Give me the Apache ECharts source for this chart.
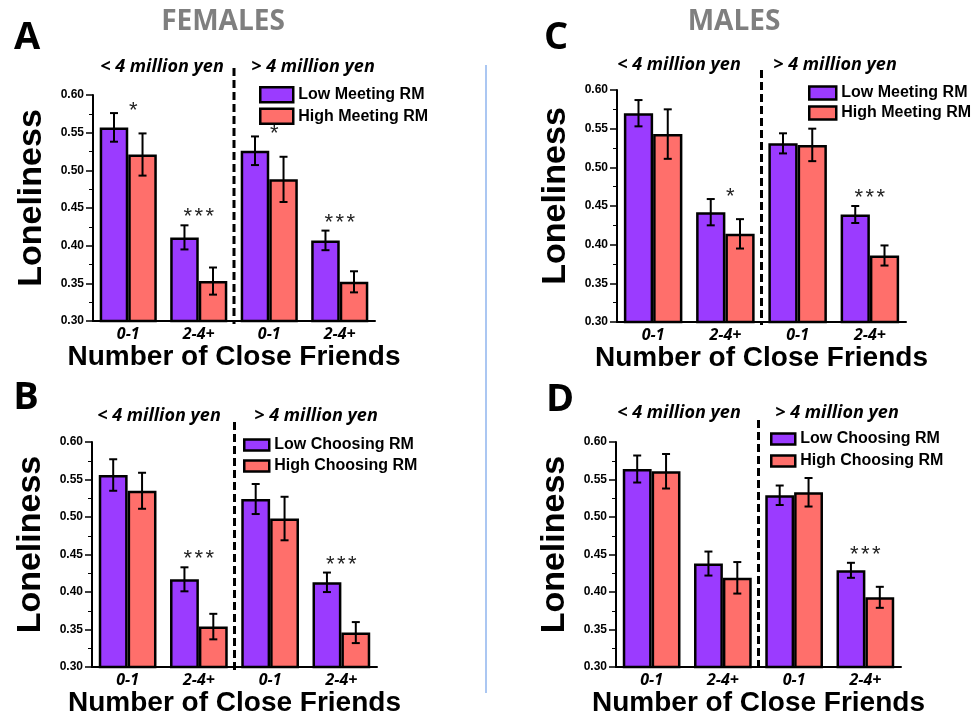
<!DOCTYPE html>
<html>
<head>
<meta charset="utf-8">
<title>Loneliness by close friends, income and RM use</title>
<script src="https://cdn.jsdelivr.net/npm/echarts@6/dist/echarts.min.js"></script>
<style>
  html, body { margin: 0; padding: 0; background: #fff; }
  #chart { width: 973px; height: 718px; }
</style>
</head>
<body>
<div id="chart"></div>
<script>
// ---- data ----
const friendGroups = ['0-1', '2-4+', '0-1', '2-4+'];
const incomeLabels = ['< 4 million yen', '> 4 million yen'];
const meetingNames = ['Low Meeting RM', 'High Meeting RM'];
const choosingNames = ['Low Choosing RM', 'High Choosing RM'];

// A: females, meeting RM
const lowA = [0.557, 0.411, 0.526, 0.407];
const errLowA = [0.019, 0.016, 0.019, 0.013];
const highA = [0.521, 0.353, 0.488, 0.352];
const errHighA = [0.028, 0.018, 0.030, 0.014];
const sigA = ['*', '***', '*', '***'];

// B: females, choosing RM
const lowB = [0.556, 0.417, 0.524, 0.413];
const errLowB = [0.021, 0.016, 0.020, 0.013];
const highB = [0.535, 0.354, 0.498, 0.346];
const errHighB = [0.024, 0.017, 0.029, 0.014];
const sigB = ['', '***', '', '***'];

// C: males, meeting RM
const lowC = [0.570, 0.442, 0.531, 0.439];
const errLowC = [0.017, 0.017, 0.013, 0.011];
const highC = [0.543, 0.414, 0.529, 0.386];
const errHighC = [0.032, 0.019, 0.021, 0.013];
const sigC = ['', '*', '', '***'];

// D: males, choosing RM
const lowD = [0.564, 0.438, 0.529, 0.429];
const errLowD = [0.018, 0.016, 0.013, 0.010];
const highD = [0.561, 0.419, 0.533, 0.393];
const errHighD = [0.023, 0.021, 0.019, 0.014];
const sigD = ['', '', '', '***'];

// ---- styling / layout ----
const PURPLE = '#9b3bff';
const SALMON = '#ff6f6b';
const CAT_GAP = 0.19;
const SANS = '"Liberation Sans", Arial, sans-serif';
const TITLE_FONT = '"Open Sans", "Liberation Sans", sans-serif';

const panels = [
  { letter: 'A', low: lowA, lowErr: errLowA, high: highA, highErr: errHighA, sig: sigA, names: meetingNames,
    grid: { left: 93, top: 95, width: 282, height: 226 }, dashRise: 27,
    legend: { left: 259, top: 86, w: 33, h: 15, gap: 4 },
    letterPos: [27, 38], incomePos: [[162, 67], [313, 67]] },
  { letter: 'B', low: lowB, lowErr: errLowB, high: highB, highErr: errHighB, sig: sigB, names: choosingNames,
    grid: { left: 92, top: 442, width: 285, height: 228 }, dashRise: 20,
    legend: { left: 243, top: 437, w: 25, h: 11, gap: 5 },
    letterPos: [26, 398], incomePos: [[159, 416], [316, 416]] },
  { letter: 'C', low: lowC, lowErr: errLowC, high: highC, highErr: errHighC, sig: sigC, names: meetingNames,
    grid: { left: 617, top: 90, width: 289, height: 232 }, dashRise: 20,
    legend: { left: 808, top: 85, w: 27, h: 13, gap: 4 },
    letterPos: [556, 38], incomePos: [[679, 65], [835, 65]] },
  { letter: 'D', low: lowD, lowErr: errLowD, high: highD, highErr: errHighD, sig: sigD, names: choosingNames,
    grid: { left: 616, top: 442, width: 285, height: 229 }, dashRise: 22,
    legend: { left: 770, top: 431, w: 24, h: 11, gap: 6 },
    letterPos: [560, 400], incomePos: [[679, 413], [837, 413]] }
];

// error bars, significance stars and the income divider for one panel
function makeRenderItem(panel) {
  return function (params, api) {
    const i = params.dataIndex;
    const band = api.size([1, 0])[0];
    const bw = band * (1 - CAT_GAP) / 2;
    const cx = api.coord([i, 0.3])[0];
    const children = [];
    const stroke = { stroke: '#000', lineWidth: 2 };
    const cap = 4;
    let topY = Infinity;
    [[api.value(1), api.value(2), -bw / 2], [api.value(3), api.value(4), bw / 2]].forEach(function (p) {
      const x = cx + p[2];
      const yTop = api.coord([i, p[0] + p[1]])[1];
      const yBot = api.coord([i, p[0] - p[1]])[1];
      topY = Math.min(topY, yTop);
      children.push({ type: 'line', shape: { x1: x, y1: yBot, x2: x, y2: yTop }, style: stroke });
      children.push({ type: 'line', shape: { x1: x - cap, y1: yTop, x2: x + cap, y2: yTop }, style: stroke });
      children.push({ type: 'line', shape: { x1: x - cap, y1: yBot, x2: x + cap, y2: yBot }, style: stroke });
    });
    const stars = panel.sig[i] || '';
    // a lone star sits in the gap between the two whiskers, a triple star above them
    const single = stars.length === 1;
    for (let k = 0; k < stars.length; k++) {
      children.push({
        type: 'text',
        style: {
          x: cx + (single ? 5 : (k - (stars.length - 1) / 2) * 11),
          y: topY - (single ? 2 : 8),
          text: '*',
          fill: '#222',
          font: '22px ' + SANS,
          align: 'center',
          verticalAlign: 'middle'
        }
      });
    }
    if (i === 1) {
      const xd = cx + band / 2;
      const yTopAxis = api.coord([i, 0.6])[1];
      const yBotAxis = api.coord([i, 0.3])[1];
      children.push({
        type: 'line',
        shape: { x1: xd, y1: yTopAxis - panel.dashRise, x2: xd, y2: yBotAxis + 3 },
        style: { stroke: '#000', lineWidth: 3, lineDash: [8, 4] }
      });
    }
    return { type: 'group', children: children };
  };
}

const grids = [], xAxes = [], yAxes = [], series = [], legends = [], graphics = [];

panels.forEach(function (p, idx) {
  grids.push(Object.assign({ containLabel: false }, p.grid));
  xAxes.push({
    type: 'category', gridIndex: idx, data: friendGroups,
    axisLine: { lineStyle: { color: '#000', width: 2 } },
    axisTick: { alignWithLabel: true, length: 4, lineStyle: { color: '#000', width: 1.5 } },
    axisLabel: { color: '#000', fontFamily: TITLE_FONT, fontStyle: 'italic', fontWeight: 'bold', fontSize: 16, margin: 5 },
    name: 'Number of Close Friends', nameLocation: 'middle', nameGap: 20,
    nameTextStyle: { color: '#000', fontFamily: SANS, fontWeight: 'bold', fontSize: 28 }
  });
  yAxes.push({
    type: 'value', gridIndex: idx, min: 0.3, max: 0.6, interval: 0.05,
    axisLine: { show: true, lineStyle: { color: '#000', width: 2 } },
    axisTick: { show: true, length: 7, lineStyle: { color: '#000', width: 1.5 } },
    minorTick: { show: true, splitNumber: 2, length: 4, lineStyle: { color: '#000', width: 1 } },
    splitLine: { show: false },
    axisLabel: { color: '#000', fontFamily: SANS, fontWeight: 'bold', fontSize: 12, margin: 9,
      formatter: function (v) { return v.toFixed(2); } },
    name: 'Loneliness', nameLocation: 'middle', nameGap: 44,
    nameTextStyle: { color: '#000', fontFamily: SANS, fontWeight: 'bold', fontSize: 34, padding: [0, 0, 0, 20] }
  });
  const barCommon = {
    type: 'bar', xAxisIndex: idx, yAxisIndex: idx,
    barCategoryGap: (CAT_GAP * 100) + '%', barGap: '0%'
  };
  series.push(Object.assign({}, barCommon, {
    name: p.names[0], data: p.low,
    itemStyle: { color: PURPLE, borderColor: '#000', borderWidth: 2.5 }
  }));
  series.push(Object.assign({}, barCommon, {
    name: p.names[1], data: p.high,
    itemStyle: { color: SALMON, borderColor: '#000', borderWidth: 2.5 }
  }));
  series.push({
    type: 'custom', xAxisIndex: idx, yAxisIndex: idx, z: 5, silent: true,
    renderItem: makeRenderItem(p),
    encode: { x: 0, y: 1 },
    data: friendGroups.map(function (_, i) { return [i, p.low[i], p.lowErr[i], p.high[i], p.highErr[i]]; })
  });
  legends.push({
    data: p.names, orient: 'vertical', left: p.legend.left, top: p.legend.top,
    itemWidth: p.legend.w, itemHeight: p.legend.h, itemGap: p.legend.gap, padding: 0,
    icon: 'rect', selectedMode: false,
    itemStyle: { borderColor: '#000', borderWidth: 2.5 },
    textStyle: { color: '#000', fontFamily: SANS, fontWeight: 'bold', fontSize: 16, lineHeight: 16 }
  });
  graphics.push({
    type: 'text', x: p.letterPos[0], y: p.letterPos[1],
    style: { text: p.letter, fill: '#000', font: 'bold 38px ' + TITLE_FONT, align: 'center', verticalAlign: 'middle' }
  });
  p.incomePos.forEach(function (pos, k) {
    graphics.push({
      type: 'text', x: pos[0], y: pos[1],
      style: { text: incomeLabels[k], fill: '#000', font: 'italic bold 18px ' + TITLE_FONT, align: 'center', verticalAlign: 'middle' }
    });
  });
});

graphics.push({
  type: 'text', x: 223, y: 22,
  style: { text: 'FEMALES', fill: '#7f7f7f', font: 'bold 28px ' + TITLE_FONT, align: 'center', verticalAlign: 'middle' }
});
graphics.push({
  type: 'text', x: 734, y: 22,
  style: { text: 'MALES', fill: '#7f7f7f', font: 'bold 28px ' + TITLE_FONT, align: 'center', verticalAlign: 'middle' }
});
graphics.push({
  type: 'line', shape: { x1: 486, y1: 65, x2: 486, y2: 693 },
  style: { stroke: '#8fb4ee', lineWidth: 1.5 }
});

const chart = echarts.init(document.getElementById('chart'), null, { renderer: 'canvas' });
chart.setOption({
  animation: false,
  backgroundColor: '#fff',
  grid: grids,
  xAxis: xAxes,
  yAxis: yAxes,
  legend: legends,
  series: series,
  graphic: graphics
});
</script>
</body>
</html>
